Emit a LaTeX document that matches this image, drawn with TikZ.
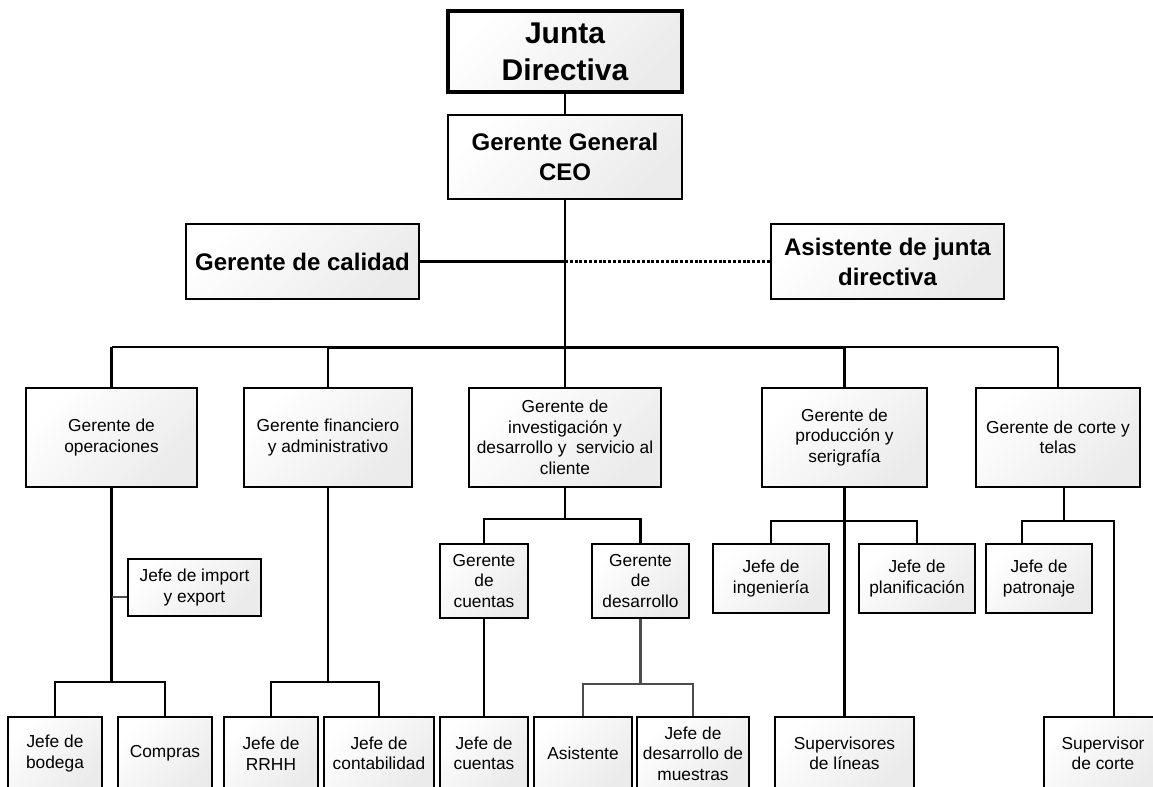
\documentclass[tikz,border=0pt]{standalone}
\usepackage{fontspec}
\setmainfont{Liberation Sans}
\usetikzlibrary{shadows}
\tikzset{
  box/.style={draw=black, line width=1.4pt, top color=white, bottom color=black!8, shading angle=45,
    drop shadow={shadow xshift=1pt, shadow yshift=-1pt, opacity=0.25, fill=black!70},
    align=center, inner sep=1pt, font=\fontsize{13}{15.4}\selectfont},
  bigbox/.style={box, font=\fontsize{18}{22.5}\selectfont\bfseries},
  topbox/.style={box, line width=2.6pt, font=\fontsize{22.5}{27.75}\selectfont\bfseries},
  ln/.style={draw=black, line width=1.6pt},
  thk/.style={draw=black, line width=2.3pt},
  gl/.style={draw=black!70, line width=1.6pt},
  dotl/.style={draw=black, line width=1.6pt, dash pattern=on 2.2pt off 1.4pt},
}
\newcommand\obx[7]{%
  \pgfmathsetmacro\obxw{(#5-#3)*0.75}%
  \pgfmathsetmacro\obxh{(#6-#4)*0.75}%
  \node[#1, minimum width=\obxw pt, minimum height=\obxh pt] (#2) at ({(#3+#5)/2},{(#4+#6)/2}) {#7};}
\begin{document}
\begin{tikzpicture}[x=0.75pt, y=-0.75pt]
\useasboundingbox (0,0) rectangle (1153,786);
\clip (0,0) rectangle (1153,786);
% top
\obx{topbox}{junta}{448}{11}{682}{92}{Junta\\Directiva}
\obx{bigbox}{ceo}{448}{115}{682}{199}{Gerente General\\CEO}
\obx{bigbox}{cal}{186}{224}{419}{299}{Gerente de calidad}
\obx{bigbox}{asi}{771}{224}{1004}{299}{Asistente de junta\\directiva}
% level 2
\obx{box}{oper}{26}{388}{197}{487}{Gerente de\\operaciones}
\obx{box}{fin}{244}{388}{412}{487}{Gerente financiero\\y administrativo}
\obx{box}{inv}{469}{388}{661}{487}{Gerente de\\investigación y\\desarrollo y~ servicio al\\cliente}
\obx{box}{prod}{762}{388}{927}{487}{Gerente de\\producción y\\serigrafía}
\obx{box}{corte}{976}{388}{1140}{487}{Gerente de corte y\\telas}
% level 3
\obx{box}{imp}{128}{559}{261}{616}{Jefe de import\\y export}
\obx{box}{gcu}{440}{544}{528}{618}{Gerente\\de\\cuentas}
\obx{box}{gde}{592}{544}{689}{618}{Gerente\\de\\desarrollo}
\obx{box}{ing}{713}{544}{829}{613}{Jefe de\\ingeniería}
\obx{box}{plan}{859}{544}{975}{613}{Jefe de\\planificación}
\obx{box}{pat}{986}{544}{1092}{613}{Jefe de\\patronaje}
% bottom
\obx{box}{bod}{8}{717}{102}{790}{Jefe de\\bodega}
\obx{box}{comp}{118}{717}{212}{790}{Compras}
\obx{box}{rrhh}{224}{717}{318}{790}{Jefe de\\RRHH}
\obx{box}{cont}{324}{717}{434}{790}{Jefe de\\contabilidad}
\obx{box}{jcu}{440}{717}{528}{790}{Jefe de\\cuentas}
\obx{box}{asis}{534}{717}{632}{790}{Asistente}
\obx{box}{mue}{637}{717}{749}{790}{Jefe de\\desarrollo de\\muestras}
\obx{box}{supl}{775}{717}{914}{790}{Supervisores\\de líneas}
\obx{box}{supc}{1044}{717}{1162}{790}{Supervisor\\de corte}
% connectors top
\draw[ln] (junta.south) -- (ceo.north);
\draw[ln] (ceo.south) -- (ceo.south |- inv.north);
\coordinate (j) at (ceo.south |- cal.east);
\draw[ln] (cal.east) -- (j);
\draw[dotl] (j) -- (asi.west);
% bus
\coordinate (bus) at ([yshift=30pt]inv.north);
\draw[ln] (oper.north |- bus) -- (fin.north |- bus);
\draw[thk] (fin.north |- bus) -- (prod.north |- bus);
\draw[ln] (prod.north |- bus) -- (corte.north |- bus);
\foreach \n in {oper,fin,prod,corte} \draw[ln] (\n.north) -- (\n.north |- bus);
% operaciones
\coordinate (b1) at ([yshift=25.5pt]bod.north);
\draw[ln] (oper.south) |- (b1) -- (bod.north);
\draw[ln] (b1) -| (comp.north);
\coordinate (ij) at ([yshift=-6.8pt]imp.west);
\draw[gl] (oper.south |- ij) -- (ij);
% financiero
\coordinate (b2) at ([yshift=25.5pt]rrhh.north);
\draw[ln] (fin.south) |- (b2) -- (rrhh.north);
\draw[ln] (b2) -| (cont.north);
% investigacion
\coordinate (b3) at ([yshift=18pt]gcu.north);
\draw[ln] (inv.south) |- (b3) -- (gcu.north);
\draw[ln] (b3) -| (gde.north);
\draw[ln] (gcu.south) -- (jcu.north);
\coordinate (b4) at ([yshift=24pt]asis.north);
\draw[gl] (gde.south) |- (b4) -- (asis.north);
\draw[gl] (b4) -| (mue.north);
% produccion
\draw[ln] (prod.south) -- (supl.north);
\coordinate (b5) at ([yshift=16.5pt]ing.north);
\draw[ln] (ing.north) -- (b5) -| (plan.north);
% corte
\coordinate (ct) at ([xshift=4.5pt]corte.south);
\coordinate (b6) at ([xshift=-12.75pt,yshift=16.5pt]pat.north);
\coordinate (b7) at ([xshift=8.25pt]supc.north);
\draw[ln] (ct) |- (b6) -- (b6 |- pat.north);
\draw[ln] (b6) -| (b7);
\end{tikzpicture}
\end{document}
